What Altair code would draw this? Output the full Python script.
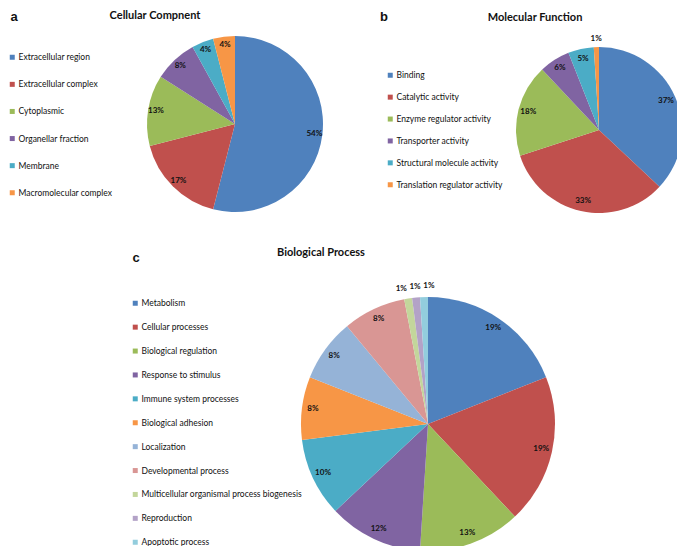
import altair as alt
import pandas as pd
import math

# ---------------- data ----------------
cc_names = ["Extracellular region", "Extracellular complex", "Cytoplasmic",
            "Organellar fraction", "Membrane", "Macromolecular complex"]
cc_values = [54, 17, 13, 8, 4, 4]

mf_names = ["Binding", "Catalytic activity", "Enzyme regulator activity",
            "Transporter activity", "Structural molecule activity",
            "Translation regulator activity"]
mf_values = [37, 33, 18, 6, 5, 1]

bp_names = ["Metabolism", "Cellular processes", "Biological regulation",
            "Response to stimulus", "Immune system processes",
            "Biological adhesion", "Localization", "Developmental process",
            "Multicellular organismal process biogenesis", "Reproduction",
            "Apoptotic process"]
bp_values = [19, 19, 13, 12, 10, 8, 8, 8, 1, 1, 1]

palette6 = ["#4F81BD", "#C0504D", "#9BBB59", "#8064A2", "#4BACC6", "#F79646"]
palette11 = palette6 + ["#95B3D7", "#D99694", "#C3D69B", "#B3A2C7", "#93CDDD"]

OFF = 8  # page margin
FONT = "Lato"
TXT = "#111111"


def pie(names, values, colors, cx, cy, r, r_in, r_out, leg_x, leg_y, row_pad):
    df = pd.DataFrame({"name": names, "value": values,
                       "order": list(range(len(names)))})
    tscale = alt.Scale(domain=[0, 1], range=[0, 2 * math.pi])
    base = alt.Chart(df).transform_window(
        cum="sum(value)", sort=[alt.SortField("order")], frame=[None, 0]
    ).transform_joinaggregate(
        total="sum(value)"
    ).transform_calculate(
        t0="(datum.cum - datum.value) / datum.total",
        t1="datum.cum / datum.total",
        tm="(datum.cum - datum.value / 2) / datum.total",
        label="datum.value + '%'",
        small="datum.value < 2",
        lr=f"datum.value < 2 ? {r_out} : {r_in}",
    ).encode(
        x=alt.value(cx - OFF),
        y=alt.value(cy - OFF),
    )
    arcs = base.mark_arc(outerRadius=r).encode(
        theta=alt.Theta("t0:Q", scale=tscale),
        theta2="t1:Q",
        color=alt.Color(
            "name:N",
            scale=alt.Scale(domain=names, range=colors),
            legend=alt.Legend(
                orient="none", legendX=leg_x - OFF, legendY=leg_y - OFF,
                title=None, symbolType="square", symbolSize=25,
                symbolStrokeWidth=0, symbolOpacity=1,
                labelFont=FONT, labelFontSize=8.5, labelColor=TXT,
                labelOffset=2, rowPadding=row_pad, labelLimit=400,
            ),
        ),
    )
    # outside labels of tiny slices are fanned out a little so they don't collide
    labels = base.transform_joinaggregate(
        tmean="mean(tm)", groupby=["small"]
    ).transform_calculate(
        tl="datum.small ? datum.tmean + (datum.tm - datum.tmean) * 1.6 : datum.tm"
    ).mark_text(font=FONT, fontSize=8, fontWeight="bold", color=TXT).encode(
        theta=alt.Theta("tl:Q", scale=tscale, stack=False),
        text="label:N",
        radius=alt.Radius("lr:Q", scale=None),
    )
    return alt.layer(arcs, labels)


def label(text, x, y, size, font=FONT, weight="bold"):
    return alt.Chart(alt.Data(values=[{}])).mark_text(
        text=text, font=font, fontSize=size, fontWeight=weight, color="#111111",
        align="center", baseline="middle",
    ).encode(x=alt.value(x - OFF), y=alt.value(y - OFF))


pie_a = pie(cc_names, cc_values, palette6, 235, 124, 88, 80, 92, 8, 53, 18.1)
pie_b = pie(mf_names, mf_values, palette6, 599, 130, 83, 73, 91, 386, 71, 12.9)
pie_c = pie(bp_names, bp_values, palette11, 428, 424, 127, 116, 138, 131, 299, 14.9)

chart = alt.layer(
    pie_a, pie_b, pie_c,
    label("Cellular Compnent", 155, 16, 11),
    label("Molecular Function", 535, 18, 11),
    label("Biological Process", 321, 253, 11),
    label("a", 14, 17, 13, font="Liberation Sans"),
    label("b", 384, 17, 13, font="Liberation Sans"),
    label("c", 136, 258, 13, font="Liberation Sans"),
).resolve_scale(
    color="independent", theta="independent"
).properties(
    width=669, height=538,
    autosize=alt.AutoSizeParams(type="none"),
    padding=0,
).configure_view(stroke=None)

chart.save("out.html", embed_options={"renderer": "svg", "actions": False})
